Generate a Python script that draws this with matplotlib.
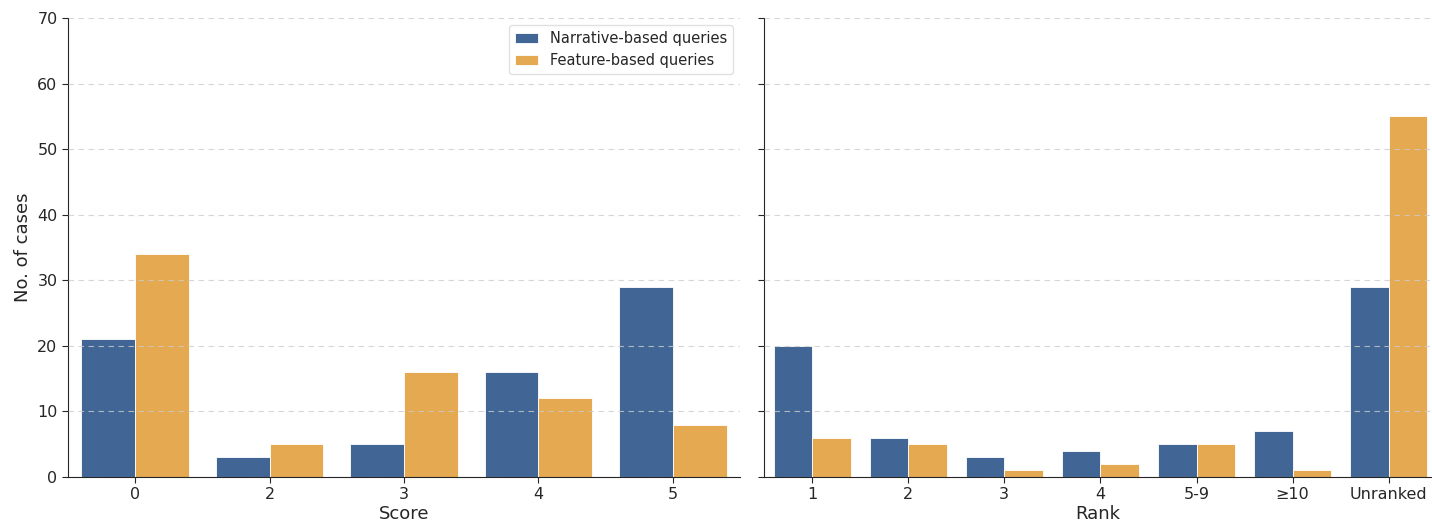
import numpy as np
import matplotlib
matplotlib.use("Agg")
import matplotlib.pyplot as plt

score_labels = ["0", "2", "3", "4", "5"]
score_narrative = [21, 3, 5, 16, 29]
score_feature = [34, 5, 16, 12, 8]

rank_labels = ["1", "2", "3", "4", "5-9", "\u226510", "Unranked"]
rank_narrative = [20, 6, 3, 4, 5, 7, 29]
rank_feature = [6, 5, 1, 2, 5, 1, 55]

BLUE = "#416696"
ORANGE = "#e5a951"
W, H = 1432, 527

plt.rcParams["text.color"] = "#262626"
plt.rcParams["axes.labelcolor"] = "#262626"
plt.rcParams["xtick.color"] = "#262626"
plt.rcParams["ytick.color"] = "#262626"
plt.rcParams["axes.edgecolor"] = "#262626"

fig = plt.figure(figsize=(W / 100, H / 100), dpi=100)
ax1 = fig.add_axes([68 / W, 1 - 477 / H, 672 / W, 459 / H])
ax2 = fig.add_axes([764 / W, 1 - 477 / H, 668 / W, 459 / H])


def draw(ax, labels, narr, feat, xlim):
    x = np.arange(len(labels))
    ax.bar(x - 0.2, narr, 0.4, color=BLUE, edgecolor="white", linewidth=0.6,
           label="Narrative-based queries")
    ax.bar(x + 0.2, feat, 0.4, color=ORANGE, edgecolor="white", linewidth=0.6,
           label="Feature-based queries")
    ax.set_xticks(x)
    ax.set_xticklabels(labels)
    ax.set_xlim(*xlim)
    ax.set_ylim(0, 70)
    ax.set_yticks(range(0, 71, 10))
    ax.yaxis.grid(True, linestyle=(0, (5, 4)), color="#cccccc", linewidth=0.8, alpha=0.8)
    ax.set_axisbelow(False)
    ax.spines["top"].set_visible(False)
    ax.spines["right"].set_visible(False)
    ax.tick_params(axis="both", labelsize=11.5, length=4)


draw(ax1, score_labels, score_narrative, score_feature, (-0.5, 4.5))
draw(ax2, rank_labels, rank_narrative, rank_feature, (-0.5, 6.45))

ax1.set_xlabel("Score", fontsize=13, labelpad=2)
ax1.set_ylabel("No. of cases", fontsize=13)
ax2.set_xlabel("Rank", fontsize=13, labelpad=2)
ax2.tick_params(axis="y", labelleft=False)

ax1.legend(loc="upper right", fontsize=10.5, frameon=True, framealpha=0.9,
           edgecolor="#dddddd", handlelength=1.6)

fig.savefig("out.png", dpi=100)
